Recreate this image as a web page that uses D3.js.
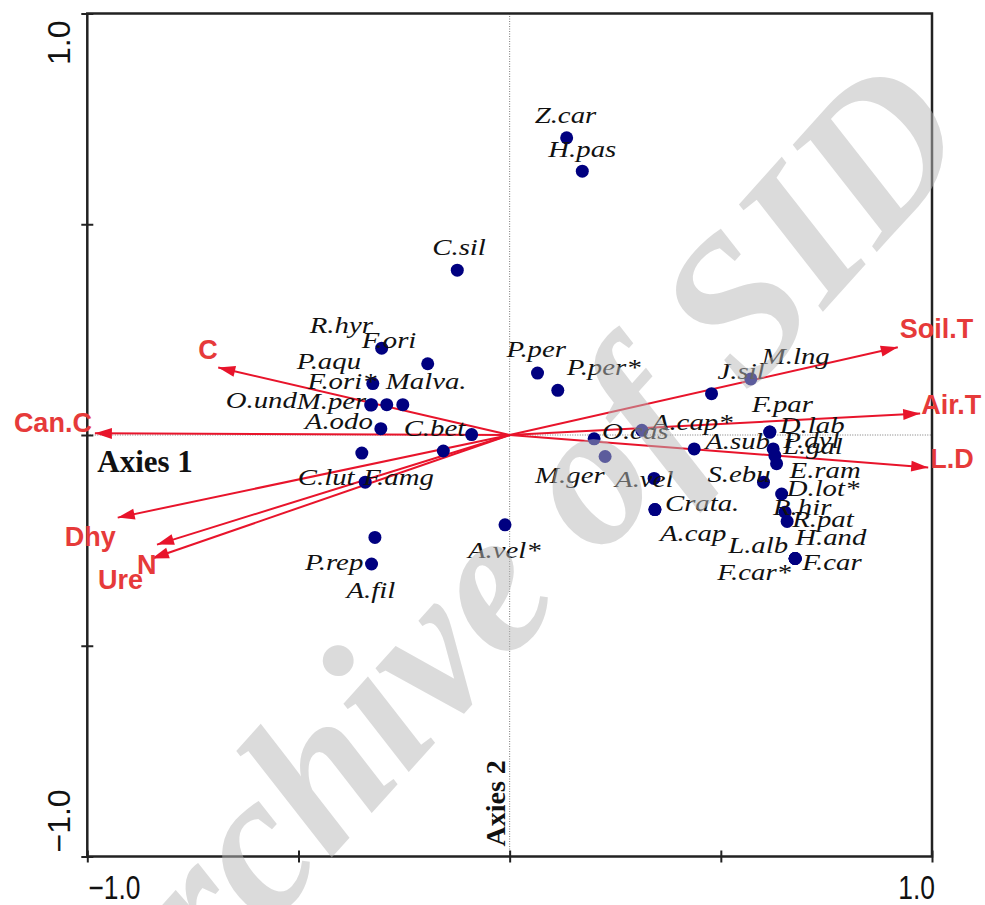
<!DOCTYPE html>
<html>
<head>
<meta charset="utf-8">
<script src="https://cdn.jsdelivr.net/npm/d3@7"></script>
<style>
  body { margin: 0; background: #fff; }
  svg { display: block; }
</style>
</head>
<body>
<script>
// Species scores (axis 1, axis 2)
const species = ["Z.car", "H.pas", "C.sil", "F.ori", "R.hyr", "P.aqu", "F.ori*", "O.und", "M.per", "Malva.",
  "A.odo", "C.bet", "C.lut", "F.amg", "", "P.rep", "A.fil", "A.vel*", "P.per", "P.per*",
  "O.cas", "A.cap*", "M.ger", "A.vel", "Crata.", "A.cap", "A.sub", "J.sil", "M.lng", "S.ebu",
  "F.par", "D.lab", "P.dyl", "L.gal", "E.ram", "D.lot*", "R.hir", "R.pat", "H.and", "F.car",
  "F.car*", "L.alb"];
const axis1 = [0.135, 0.172, -0.124, -0.303, -0.194, -0.324, -0.327, -0.329, -0.291, -0.253,
  -0.305, -0.090, -0.350, -0.342, -0.157, -0.319, -0.327, -0.011, 0.066, 0.114,
  0.200, 0.313, 0.226, 0.342, 0.344, 0.344, 0.437, 0.478, 0.571, 0.601,
  0.616, 0.616, 0.624, 0.628, 0.632, 0.644, 0.652, 0.657, 0.676, 0.676,
  0.676, 0.676];
const axis2 = [0.705, 0.626, 0.391, 0.206, 0.169, 0.122, 0.072, 0.071, 0.072, 0.072,
  0.015, 0.001, -0.043, -0.112, -0.038, -0.243, -0.306, -0.213, 0.147, 0.106,
  -0.009, 0.011, -0.051, -0.103, -0.177, -0.177, -0.033, 0.098, 0.133, -0.112,
  0.007, 0.007, -0.033, -0.049, -0.068, -0.140, -0.183, -0.205, -0.293, -0.293,
  -0.293, -0.293];

// Environmental variables (biplot arrows)
const envVars = ["Soil.T", "Air.T", "L.D", "C", "Can.C", "Dhy", "N", "Ure"];
const envX = [0.919, 0.972, 0.991, -0.690, -0.982, -0.928, -0.835, -0.847];
const envY = [0.208, 0.051, -0.077, 0.160, 0.004, -0.196, -0.260, -0.293];

const tickValues = [-1, -0.5, 0, 0.5, 1];
const endLabels = [-1, 1];

// Label nudges in pixels (layout only)
const labelNudge = {
  "Z.car": [-32, -15], "H.pas": [-34, -14], "C.sil": [-25, -15], "F.ori": [-20, 0],
  "R.hyr": [-118, -31], "P.aqu": [-76, -15], "F.ori*": [-64, -16], "O.und": [-145, 3],
  "M.per": [-90, 4], "Malva.": [-17, -16], "A.odo": [-76, 0], "C.bet": [-68, 1],
  "C.lut": [-64, 32], "F.amg": [-2, 3], "P.rep": [-70, 33], "A.fil": [-25, 34],
  "A.vel*": [-37, 33], "P.per": [-31, -16], "P.per*": [9, -15], "O.cas": [8, 0],
  "A.cap*": [10, 0], "M.ger": [-70, 27], "A.vel": [-39, 9], "Crata.": [10, 1],
  "A.cap": [5, 31], "A.sub": [11, 0], "J.sil": [6, -15], "M.lng": [11, -15],
  "S.ebu": [-56, 0], "F.par": [-18, -20], "D.lab": [10, 1], "P.dyl": [10, -1],
  "L.gal": [8, -2], "E.ram": [13, 14], "D.lot*": [5, 2], "R.hir": [-12, 3],
  "R.pat": [5, 6], "H.and": [0, -13], "F.car": [7, 12], "F.car*": [-78, 22],
  "L.alb": [-67, -5]
};
const envNudge = {
  "Soil.T": [2, -9, "start"], "Air.T": [1, 0, "start"], "L.D": [2, 1, "start"],
  "C": [-20, -9, "start"], "Can.C": [-3, -1, "end"], "Dhy": [-53, 28, "start"],
  "N": [-20, 29, "start"], "Ure": [-54, 31, "start"]
};

const width = 985;
const height = 905;
const red = "#e8142b";
const labelRed = "#e63a3a";
const serif = "Liberation Serif, Times New Roman, serif";
const sans = "Liberation Sans, Arial, sans-serif";

const svg = d3.select("body").append("svg")
  .attr("width", width)
  .attr("height", height);

const x = d3.scaleLinear().domain([-1, 1]).range([87.3, 932]);
const y = d3.scaleLinear().domain([-1, 1]).range([856.5, 13.5]);

const points = species.map((name, i) => ({ name, x: axis1[i], y: axis2[i] }));
const arrows = envVars.map((name, i) => ({ name, x: envX[i], y: envY[i] }));

// Zero lines (dotted)
svg.append("line")
  .attr("x1", x(0)).attr("x2", x(0))
  .attr("y1", y(1)).attr("y2", y(-1))
  .attr("stroke", "#777").attr("stroke-width", 1)
  .attr("stroke-dasharray", "1,1.5");
svg.append("line")
  .attr("x1", x(-1)).attr("x2", x(1))
  .attr("y1", y(0)).attr("y2", y(0))
  .attr("stroke", "#777").attr("stroke-width", 1)
  .attr("stroke-dasharray", "1,1.5");

// Frame
svg.append("rect")
  .attr("x", x(-1)).attr("y", y(1))
  .attr("width", x(1) - x(-1)).attr("height", y(-1) - y(1))
  .attr("fill", "none").attr("stroke", "#222").attr("stroke-width", 2.5);

// Bottom axis ticks (crossing the frame line)
const xAxis = svg.append("g")
  .attr("transform", `translate(0,${y(-1)})`)
  .call(d3.axisBottom(x).tickValues(tickValues).tickSize(6).tickFormat(""));
xAxis.select(".domain").remove();
xAxis.selectAll(".tick line").attr("y1", -6).attr("stroke", "#222").attr("stroke-width", 2);

// Left axis ticks
const yAxis = svg.append("g")
  .attr("transform", `translate(${x(-1)},0)`)
  .call(d3.axisLeft(y).tickValues(tickValues).tickSize(6).tickFormat(""));
yAxis.select(".domain").remove();
yAxis.selectAll(".tick line").attr("x2", 6).attr("x1", -6).attr("stroke", "#222").attr("stroke-width", 2);

// X end labels, slightly condensed
svg.selectAll("text.xlab")
  .data(endLabels)
  .join("text")
  .attr("class", "xlab")
  .attr("transform", d => `translate(${d < 0 ? x(d) + 1 : x(d) + 3},899) scale(0.8,1)`)
  .attr("text-anchor", d => (d < 0 ? "start" : "end"))
  .attr("font-family", sans)
  .attr("font-size", 33)
  .attr("fill", "#111")
  .text(d => d3.format(".1f")(d));

// Y end labels, rotated
svg.selectAll("text.ylab")
  .data(endLabels)
  .join("text")
  .attr("class", "ylab")
  .attr("transform", d => `translate(70,${d > 0 ? y(d) + 7 : y(d) - 4}) rotate(-90)`)
  .attr("text-anchor", d => (d > 0 ? "end" : "start"))
  .attr("font-family", sans)
  .attr("font-size", 32)
  .attr("fill", "#111")
  .text(d => d3.format(".1f")(d));

// Axis names
svg.append("text")
  .attr("x", x(-1) + 10).attr("y", y(0) + 37)
  .attr("font-family", serif)
  .attr("font-weight", "bold")
  .attr("font-size", 31)
  .attr("fill", "#111")
  .text("Axies 1");
svg.append("text")
  .attr("transform", `translate(${x(0) - 5},${y(-1) - 10}) rotate(-90)`)
  .attr("font-family", serif)
  .attr("font-weight", "bold")
  .attr("font-size", 28)
  .attr("fill", "#111")
  .text("Axies 2");

// Arrows
const arrowG = svg.append("g");
arrowG.selectAll("line")
  .data(arrows)
  .join("line")
  .attr("x1", x(0)).attr("y1", y(0))
  .attr("x2", d => x(d.x)).attr("y2", d => y(d.y))
  .attr("stroke", red).attr("stroke-width", 2);
arrowG.selectAll("path")
  .data(arrows)
  .join("path")
  .attr("d", "M0,0 L-17,-5.5 L-17,5.5 Z")
  .attr("fill", red)
  .attr("transform", d => {
    const ang = Math.atan2(y(d.y) - y(0), x(d.x) - x(0)) * 180 / Math.PI;
    return `translate(${x(d.x)},${y(d.y)}) rotate(${ang})`;
  });
arrowG.selectAll("text")
  .data(arrows)
  .join("text")
  .attr("x", d => x(d.x) + envNudge[d.name][0])
  .attr("y", d => y(d.y) + envNudge[d.name][1])
  .attr("text-anchor", d => envNudge[d.name][2])
  .attr("font-family", sans)
  .attr("font-weight", "bold")
  .attr("font-size", 27)
  .attr("fill", labelRed)
  .text(d => d.name);

// Species points
svg.append("g")
  .selectAll("circle")
  .data(points)
  .join("circle")
  .attr("cx", d => x(d.x))
  .attr("cy", d => y(d.y))
  .attr("r", 6.5)
  .attr("fill", "#000080");

// Species labels (stretched italic)
svg.append("g")
  .selectAll("text")
  .data(points.filter(d => d.name !== ""))
  .join("text")
  .attr("transform", d => {
    const n = labelNudge[d.name];
    return `translate(${x(d.x) + n[0]},${y(d.y) + n[1]}) scale(1.28,1)`;
  })
  .attr("font-family", serif)
  .attr("font-style", "italic")
  .attr("font-size", 22.5)
  .attr("fill", "#111")
  .text(d => d.name);

// Watermark over everything
svg.append("text")
  .attr("transform", "translate(550,615) rotate(-48)")
  .attr("text-anchor", "middle")
  .attr("font-family", serif)
  .attr("font-style", "italic")
  .attr("font-weight", "bold")
  .attr("font-size", 205)
  .attr("fill", "#b8b8b8")
  .attr("opacity", 0.5)
  .text("Archive of SID");
</script>
</body>
</html>
